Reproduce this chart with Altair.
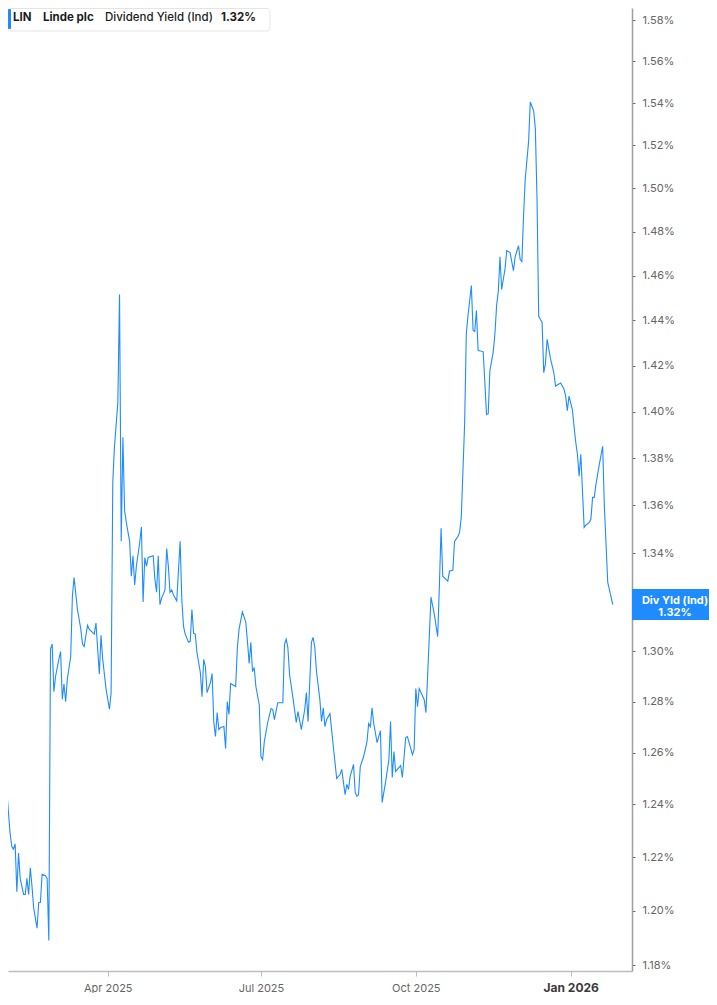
import altair as alt
import pandas as pd

# ---- data (date, dividend yield in %) ----
dates = [
    "2025-01-27", "2025-01-28", "2025-01-29", "2025-01-30", "2025-01-31",
    "2025-02-01", "2025-02-02", "2025-02-03", "2025-02-04", "2025-02-05",
    "2025-02-06", "2025-02-07", "2025-02-08", "2025-02-10", "2025-02-11",
    "2025-02-12", "2025-02-13", "2025-02-14", "2025-02-15", "2025-02-16",
    "2025-02-18", "2025-02-19", "2025-02-20", "2025-02-21", "2025-02-23",
    "2025-02-24", "2025-02-25", "2025-02-26", "2025-02-27", "2025-02-28",
    "2025-03-01", "2025-03-03", "2025-03-04", "2025-03-05", "2025-03-06",
    "2025-03-07", "2025-03-08", "2025-03-10", "2025-03-11", "2025-03-12",
    "2025-03-14", "2025-03-16", "2025-03-17", "2025-03-18", "2025-03-20",
    "2025-03-21", "2025-03-24", "2025-03-25", "2025-03-27", "2025-03-28",
    "2025-03-29", "2025-03-31", "2025-04-02", "2025-04-03", "2025-04-04",
    "2025-04-05", "2025-04-07", "2025-04-08", "2025-04-09", "2025-04-10",
    "2025-04-11", "2025-04-12", "2025-04-14", "2025-04-15", "2025-04-16",
    "2025-04-17", "2025-04-18", "2025-04-20", "2025-04-21", "2025-04-22",
    "2025-04-23", "2025-04-24", "2025-04-25", "2025-04-28", "2025-04-29",
    "2025-04-30", "2025-05-01", "2025-05-02", "2025-05-03", "2025-05-05",
    "2025-05-06", "2025-05-07", "2025-05-08", "2025-05-09", "2025-05-10",
    "2025-05-12", "2025-05-14", "2025-05-15", "2025-05-16", "2025-05-17",
    "2025-05-19", "2025-05-20", "2025-05-21", "2025-05-22", "2025-05-23",
    "2025-05-24", "2025-05-26", "2025-05-27", "2025-05-28", "2025-05-29",
    "2025-05-30", "2025-06-01", "2025-06-02", "2025-06-03", "2025-06-04",
    "2025-06-05", "2025-06-06", "2025-06-07", "2025-06-09", "2025-06-10",
    "2025-06-11", "2025-06-12", "2025-06-13", "2025-06-15", "2025-06-16",
    "2025-06-17", "2025-06-18", "2025-06-20", "2025-06-22", "2025-06-23",
    "2025-06-24", "2025-06-25", "2025-06-26", "2025-06-27", "2025-06-28",
    "2025-06-30", "2025-07-01", "2025-07-02", "2025-07-03", "2025-07-05",
    "2025-07-07", "2025-07-08", "2025-07-09", "2025-07-11", "2025-07-14",
    "2025-07-15", "2025-07-16", "2025-07-17", "2025-07-18", "2025-07-20",
    "2025-07-22", "2025-07-23", "2025-07-25", "2025-07-27", "2025-07-28",
    "2025-07-29", "2025-07-31", "2025-08-01", "2025-08-02", "2025-08-03",
    "2025-08-05", "2025-08-06", "2025-08-07", "2025-08-08", "2025-08-09",
    "2025-08-11", "2025-08-13", "2025-08-15", "2025-08-17", "2025-08-18",
    "2025-08-19", "2025-08-20", "2025-08-21", "2025-08-22", "2025-08-23",
    "2025-08-25", "2025-08-26", "2025-08-27", "2025-08-28", "2025-08-29",
    "2025-08-31", "2025-09-02", "2025-09-03", "2025-09-04", "2025-09-05",
    "2025-09-06", "2025-09-08", "2025-09-10", "2025-09-11", "2025-09-13",
    "2025-09-15", "2025-09-16", "2025-09-17", "2025-09-18", "2025-09-19",
    "2025-09-22", "2025-09-23", "2025-09-25", "2025-09-26", "2025-09-29",
    "2025-09-30", "2025-10-01", "2025-10-02", "2025-10-03", "2025-10-06",
    "2025-10-07", "2025-10-08", "2025-10-10", "2025-10-12", "2025-10-14",
    "2025-10-15", "2025-10-16", "2025-10-17", "2025-10-20", "2025-10-21",
    "2025-10-23", "2025-10-24", "2025-10-26", "2025-10-27", "2025-10-28",
    "2025-10-30", "2025-10-31", "2025-11-01", "2025-11-03", "2025-11-04",
    "2025-11-05", "2025-11-06", "2025-11-07", "2025-11-10", "2025-11-11",
    "2025-11-12", "2025-11-13", "2025-11-14", "2025-11-16", "2025-11-17",
    "2025-11-18", "2025-11-19", "2025-11-20", "2025-11-21", "2025-11-23",
    "2025-11-24", "2025-11-26", "2025-11-27", "2025-11-28", "2025-11-29",
    "2025-12-01", "2025-12-02", "2025-12-03", "2025-12-04", "2025-12-05",
    "2025-12-07", "2025-12-08", "2025-12-10", "2025-12-11", "2025-12-12",
    "2025-12-13", "2025-12-14", "2025-12-15", "2025-12-16", "2025-12-17",
    "2025-12-18", "2025-12-20", "2025-12-22", "2025-12-23", "2025-12-25",
    "2025-12-26", "2025-12-28", "2025-12-29", "2025-12-30", "2025-12-31",
    "2026-01-02", "2026-01-03", "2026-01-04", "2026-01-05", "2026-01-06",
    "2026-01-07", "2026-01-09", "2026-01-10", "2026-01-12", "2026-01-13",
    "2026-01-14", "2026-01-15", "2026-01-16", "2026-01-18", "2026-01-20",
    "2026-01-21", "2026-01-23", "2026-01-26",
]

yields = [
    1.265, 1.276, 1.271, 1.246, 1.246,
    1.237, 1.229, 1.224, 1.223, 1.225,
    1.207, 1.2215, 1.212, 1.206, 1.206,
    1.212, 1.206, 1.216, 1.209, 1.201,
    1.1935, 1.203, 1.203, 1.2135, 1.213,
    1.212, 1.189, 1.301, 1.303, 1.284,
    1.290, 1.297, 1.300, 1.281, 1.287,
    1.280, 1.289, 1.298, 1.3225, 1.330,
    1.317, 1.309, 1.303, 1.302, 1.3106,
    1.309, 1.307, 1.3115, 1.291, 1.3065,
    1.297, 1.285, 1.277, 1.2835, 1.370,
    1.385, 1.404, 1.4516, 1.345, 1.389,
    1.358, 1.353, 1.345, 1.3306, 1.339,
    1.327, 1.3347, 1.3446, 1.351, 1.320,
    1.3383, 1.3347, 1.3383, 1.339, 1.3294,
    1.324, 1.339, 1.319, 1.3216, 1.325,
    1.342, 1.3347, 1.324, 1.325, 1.323,
    1.3204, 1.345, 1.321, 1.3102, 1.307,
    1.3037, 1.3041, 1.317, 1.3073, 1.307,
    1.2996, 1.2916, 1.282, 1.2968, 1.294,
    1.2836, 1.2876, 1.2912, 1.2718, 1.2663,
    1.2757, 1.269, 1.2698, 1.2702, 1.2616,
    1.280, 1.275, 1.2872, 1.2864, 1.286,
    1.3016, 1.309, 1.316, 1.3118, 1.304,
    1.2952, 1.3037, 1.292, 1.2936, 1.286,
    1.2788, 1.2585, 1.2573, 1.2643, 1.2718,
    1.2773, 1.2769, 1.2729, 1.2796, 1.2796,
    1.3029, 1.305, 1.3016, 1.2908, 1.2816,
    1.2718, 1.2761, 1.269, 1.2769, 1.2836,
    1.2722, 1.3037, 1.3057, 1.3016, 1.292,
    1.2808, 1.2722, 1.2776, 1.2702, 1.2729,
    1.2753, 1.2624, 1.250, 1.2515, 1.2535,
    1.2485, 1.2438, 1.2477, 1.2458, 1.2508,
    1.2554, 1.2446, 1.2431, 1.2438, 1.2546,
    1.2585, 1.2643, 1.2714, 1.2702, 1.2776,
    1.2714, 1.2639, 1.2686, 1.2408, 1.2485,
    1.2573, 1.2722, 1.2504, 1.2604, 1.2527,
    1.255, 1.2504, 1.2659, 1.2663, 1.2592,
    1.2612, 1.2852, 1.278, 1.2852, 1.2808,
    1.2757, 1.290, 1.322, 1.315, 1.306,
    1.3265, 1.3504, 1.3306, 1.3286, 1.3327,
    1.333, 1.345, 1.347, 1.3487, 1.355,
    1.395, 1.4342, 1.4422, 1.4556, 1.4356,
    1.4351, 1.4444, 1.4267, 1.4262, 1.4129,
    1.3987, 1.3991, 1.4178, 1.4262, 1.4342,
    1.4467, 1.4529, 1.4686, 1.4538, 1.4632,
    1.4714, 1.4705, 1.4664, 1.4623, 1.4686,
    1.4736, 1.4673, 1.4664, 1.4873, 1.5043,
    1.5219, 1.5405, 1.5363, 1.528, 1.495,
    1.4418, 1.4404, 1.4391, 1.4169, 1.4209,
    1.4316, 1.4231, 1.4169, 1.4111, 1.412,
    1.4124, 1.4098, 1.4067, 1.4004, 1.4067,
    1.4009, 1.3936, 1.3868, 1.3817, 1.3723,
    1.3817, 1.3508, 1.3517, 1.3529, 1.3542,
    1.3634, 1.3634, 1.3689, 1.3774, 1.3851,
    1.3596, 1.3281, 1.319,
]

y_ticks = [1.18, 1.20, 1.22, 1.24, 1.26, 1.28, 1.30, 1.32, 1.34, 1.36,
           1.38, 1.40, 1.42, 1.44, 1.46, 1.48, 1.50, 1.52, 1.54, 1.56, 1.58]
x_ticks = [(2025, 4), (2025, 7), (2025, 10), (2026, 1)]

ticker = "LIN"
company = "Linde plc"
metric = "Dividend Yield (Ind)"
last_label = "1.32%"
badge_lines = ["Div Yld (Ind)", "1.32%"]

BLUE = "#1e8cff"
FONT = "Inter"

df = pd.DataFrame({"date": dates, "yld": yields})
last = df.tail(1)
dummy = pd.DataFrame({"a": [0]})

x_scale = alt.Scale(
    type="utc",
    domain=[alt.DateTime(year=2025, month=1, date=31, hours=18, utc=True),
            alt.DateTime(year=2026, month=2, date=6, hours=10, utc=True)],
)
y_scale = alt.Scale(type="log", domain=[1.17782, 1.5859], nice=False, zero=False)

x_axis = alt.Axis(
    values=[alt.DateTime(year=y, month=m, date=1, utc=True) for y, m in x_ticks],
    labelExpr="utcFormat(datum.value, '%b %Y')",
    grid=False,
    domainColor="#bdbdbd",
    domainWidth=1.5,
    tickColor="#bdbdbd",
    tickSize=5,
    labelPadding=6,
    labelFont=FONT,
    labelFontSize={"condition": {"test": "utcmonth(datum.value) == 0", "value": 12}, "value": 11},
    labelFontWeight={"condition": {"test": "utcmonth(datum.value) == 0", "value": "bold"}, "value": "normal"},
    labelColor={"condition": {"test": "utcmonth(datum.value) == 0", "value": "#3a3a3a"}, "value": "#666666"},
    labelOverlap=False,
    title=None,
)
# the 1.32% label sits under the last-value badge, so its text is left blank
y_axis = alt.Axis(
    orient="right",
    values=y_ticks,
    labelExpr="abs(datum.value - 1.32) < 0.001 ? '' : format(datum.value, '.2f') + '%'",
    grid=False,
    domainColor="#9e9e9e",
    domainWidth=1.5,
    tickColor="#666666",
    tickSize=3,
    labelPadding=7,
    labelFont=FONT,
    labelFontSize=11,
    labelColor="#666666",
    labelAlign="left",
    labelBaseline="middle",
    labelOverlap=False,
    labelFlush=False,
    title=None,
)

line = alt.Chart(df).mark_line(color=BLUE, strokeWidth=1.1, clip=True).encode(
    x=alt.X("date:T", scale=x_scale, axis=x_axis),
    y=alt.Y("yld:Q", scale=y_scale, axis=y_axis),
)

badge = alt.Chart(last).mark_rect(color=BLUE, height=31, clip=False).encode(
    x=alt.value(624),
    x2=alt.value(710),
    y=alt.Y("yld:Q", scale=y_scale),
)
badge_text = alt.Chart(last).mark_text(
    font=FONT, fontSize=11, fontWeight="bold", color="white",
    align="center", baseline="middle", lineHeight=12, dy=-4,
).encode(
    x=alt.value(667),
    y=alt.Y("yld:Q", scale=y_scale),
    text=alt.value(badge_lines),
)

box = alt.Chart(dummy).mark_rect(
    fill="white", stroke="#e4e4e4", strokeWidth=1, cornerRadius=3
).encode(x=alt.value(0.5), x2=alt.value(262), y=alt.value(0.5), y2=alt.value(23))
bar = alt.Chart(dummy).mark_rect(fill=BLUE, cornerRadius=1).encode(
    x=alt.value(0), x2=alt.value(3), y=alt.value(1), y2=alt.value(21)
)


def head(txt, xpos, weight):
    return alt.Chart(dummy).mark_text(
        font=FONT, fontSize=11.5, fontWeight=weight, color="#1c1c1c",
        align="left", baseline="middle",
    ).encode(x=alt.value(xpos), y=alt.value(10), text=alt.value(txt))


chart = alt.layer(
    line,
    badge,
    badge_text,
    box,
    bar,
    head(ticker, 5, 700),
    head(company, 35, 700),
    head(metric, 97, 500),
    head(last_label, 213, 700),
).properties(
    width=624,
    height=963,
    autosize=alt.AutoSizeParams(type="none"),
    padding={"left": 0, "top": 0, "right": 77, "bottom": 22},
    background="white",
).configure_view(stroke=None)

chart.save("out.html", embed_options={"renderer": "svg", "actions": False})
